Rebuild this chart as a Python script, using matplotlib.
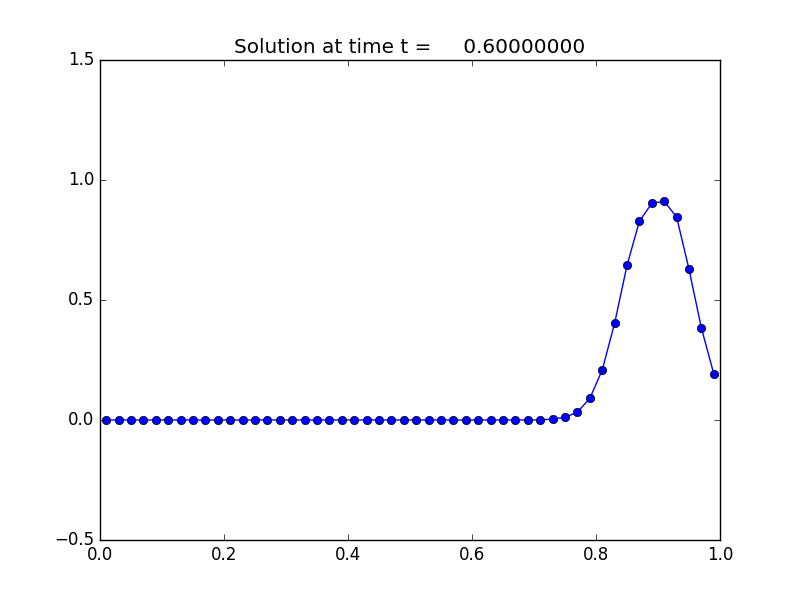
import matplotlib
matplotlib.use('Agg')
import matplotlib.pyplot as plt
import numpy as np

plt.style.use('classic')

x = [0.01 + 0.02 * i for i in range(50)]
y_tail = [0.004, 0.011, 0.033, 0.090, 0.208, 0.403, 0.644, 0.828, 0.903,
          0.911, 0.846, 0.628, 0.383, 0.192]
y = [0.0] * (50 - len(y_tail)) + y_tail

title = 'Solution at time t =     0.60000000'

fig = plt.figure(figsize=(8, 6), dpi=100)
ax = fig.add_subplot(111)
ax.plot(x, y, 'b-o')
ax.set_xlim(0, 1)
ax.set_ylim(-0.5, 1.5)
ax.set_xticks([0.0, 0.2, 0.4, 0.6, 0.8, 1.0])
ax.set_yticks([-0.5, 0.0, 0.5, 1.0, 1.5])
ax.set_title(title)
fig.savefig('out.png', dpi=100)
